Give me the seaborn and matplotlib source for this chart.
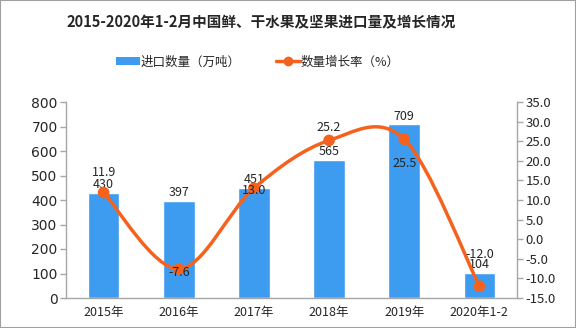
import numpy as np
import pandas as pd
import matplotlib
matplotlib.use("Agg")
import matplotlib.pyplot as plt
import seaborn as sns
from matplotlib.path import Path
from matplotlib.patches import PathPatch, Rectangle
from matplotlib.lines import Line2D
from matplotlib.patches import Patch

categories = ["2015年", "2016年", "2017年", "2018年", "2019年", "2020年1-2"]
import_volume = [430, 397, 451, 565, 709, 104]
growth_rate = [11.9, -7.6, 13.0, 25.2, 25.5, -12.0]
left_ticks = [0, 100, 200, 300, 400, 500, 600, 700, 800]
right_ticks = [-15.0, -10.0, -5.0, 0.0, 5.0, 10.0, 15.0, 20.0, 25.0, 30.0, 35.0]

# label offsets (pixels) for the growth-rate labels
rate_offsets = [20, -4, -2, 13, -24, 32]

BAR = "#3D9CF0"
LINE = "#F5621E"
GRAY = "#A6A6A6"

sns.set_theme(style="white")
plt.rcParams["font.family"] = ["Noto Sans CJK SC", "DejaVu Sans"]

fig = plt.figure(figsize=(5.76, 3.28), dpi=100)
ax = fig.add_axes([66/576, 1-298/328, (517-66)/576, (298-102)/328])

df = pd.DataFrame({"cat": categories, "vol": import_volume})
sns.barplot(data=df, x="cat", y="vol", color=BAR, width=0.42, saturation=1, ax=ax)
ax.set_ylim(0, 800)
ax.set_xlim(-0.5, len(categories) - 0.5)
ax.set_yticks(left_ticks)
ax.set_yticklabels([str(t) for t in left_ticks], fontsize=10, family=["DejaVu Sans"])
ax.set_xlabel("")
ax.set_ylabel("")
ax.set_xticks(range(len(categories)))
ax.set_xticklabels(categories, fontsize=9)
ax.tick_params(axis="x", length=0, pad=6)
ax.set_xticks(np.arange(-0.5, len(categories)), minor=True)
ax.tick_params(axis="x", which="minor", length=4, color=GRAY, direction="out", width=1)
ax.tick_params(axis="y", length=4, color=GRAY, direction="out", width=1, pad=2)
for s in ["top", "right"]:
    ax.spines[s].set_visible(False)
for s in ["left", "bottom"]:
    ax.spines[s].set_color(GRAY)
    ax.spines[s].set_linewidth(1)

for i, v in enumerate(import_volume):
    ax.annotate(str(v), (i, v), xytext=(0, 8), textcoords="offset pixels",
                ha="center", va="center", fontsize=9)

ax2 = ax.twinx()
ax2.set_ylim(-15, 35)
ax2.set_yticks(right_ticks)
ax2.set_yticklabels([f"{t:.1f}" for t in right_ticks], fontsize=9.5)
ax2.tick_params(axis="y", length=4, color=GRAY, direction="out", width=1, pad=2)
for s in ["top", "left", "bottom"]:
    ax2.spines[s].set_visible(False)
ax2.spines["right"].set_color(GRAY)
ax2.spines["right"].set_linewidth(1)

# smooth curve via Catmull-Rom bezier segments
xs = np.arange(len(growth_rate), dtype=float)
pts = np.column_stack([xs, np.array(growth_rate, dtype=float)])
ext = np.vstack([pts[0], pts, pts[-1]])
verts = [tuple(pts[0])]
codes = [Path.MOVETO]
for k in range(len(pts) - 1):
    p0, p1, p2, p3 = ext[k], ext[k+1], ext[k+2], ext[k+3]
    c1 = p1 + (p2 - p0) / 6.0
    c2 = p2 - (p3 - p1) / 6.0
    verts += [tuple(c1), tuple(c2), tuple(p2)]
    codes += [Path.CURVE4] * 3
ax2.add_patch(PathPatch(Path(verts, codes), facecolor="none", edgecolor=LINE, lw=2.5, zorder=3))
sns.scatterplot(x=xs, y=growth_rate, color=LINE, s=70, edgecolor="none", zorder=4, ax=ax2, legend=False)
ax2.set_xlim(-0.5, len(categories) - 0.5)

for i, v in enumerate(growth_rate):
    ax2.annotate(f"{v:.1f}", (i, v), xytext=(0, rate_offsets[i]), textcoords="offset pixels",
                 ha="center", va="center", fontsize=9, zorder=5)

fig.text(261/576, 1-22/328, "2015-2020年1-2月中国鲜、干水果及坚果进口量及增长情况",
         ha="center", va="center", fontsize=10.5, fontweight="bold")

handles = [Patch(facecolor=BAR, edgecolor="none"),
           Line2D([0], [0], color=LINE, lw=2.5, marker="o", markersize=6)]
fig.legend(handles, ["进口数量（万吨）", "数量增长率（%）"], loc="center",
           bbox_to_anchor=(258/576, 1-62/328), ncol=2, frameon=False, fontsize=9,
           handlelength=1.9, handleheight=0.6, handletextpad=0.1, columnspacing=2.8)

fig.patches.append(Rectangle((0, 0), 1, 1, transform=fig.transFigure, fill=False,
                             edgecolor="#A0A0A0", lw=1.5))

fig.savefig("out.png", dpi=100)
